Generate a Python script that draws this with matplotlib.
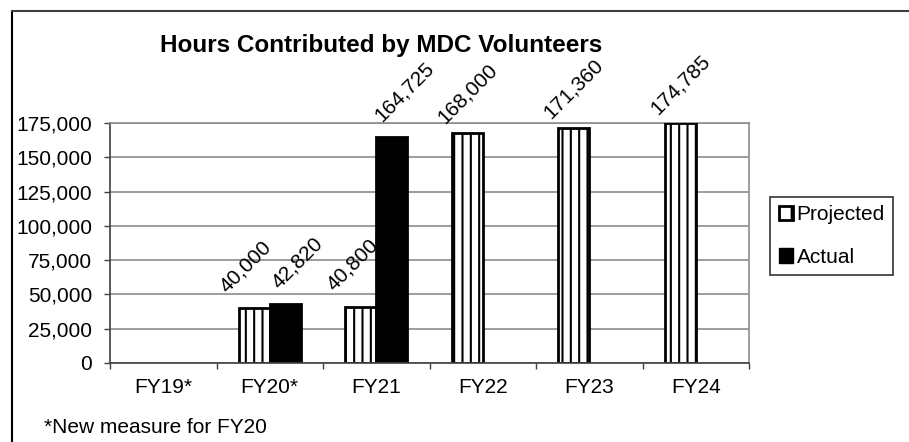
import numpy as np
import matplotlib
matplotlib.use("Agg")
import matplotlib.pyplot as plt
from matplotlib.lines import Line2D
from matplotlib.patches import Patch
from matplotlib.ticker import FuncFormatter, FixedLocator

plt.rcParams['font.family'] = ['Liberation Sans', 'DejaVu Sans']
plt.rcParams['hatch.linewidth'] = 1.5

categories = ['FY19*', 'FY20*', 'FY21', 'FY22', 'FY23', 'FY24']
projected = [None, 40000, 40800, 168000, 171360, 174785]
actual = [None, 42820, 164725, None, None, None]
yticks = [0, 25000, 50000, 75000, 100000, 125000, 150000, 175000]

W, H = 909, 442
fig = plt.figure(figsize=(W / 100, H / 100), dpi=100)
ax = fig.add_axes([110 / W, 1 - 363 / H, 639 / W, 240 / H])

x = np.arange(len(categories))
w = 0.29
fs = 15

def label(xpos, v, dx=0, dy=4):
    ax.annotate(f"{v:,}", (xpos, v), xytext=(dx, dy), textcoords='offset points',
                rotation=45, ha='center', va='bottom', fontsize=fs, zorder=4,
                annotation_clip=False)

for i, v in enumerate(projected):
    if v is None:
        continue
    ax.bar(x[i] - w / 2, v, w, color='white', edgecolor='black', hatch='||',
           linewidth=2, zorder=3)
    # Excel nudges the labels apart when both bars of a year are shown
    if actual[i] is not None:
        label(x[i] - w / 2, v, dx=-6, dy=9)
    else:
        label(x[i] - w / 2, v)

for i, v in enumerate(actual):
    if v is None:
        continue
    ax.bar(x[i] + w / 2, v, w, color='black', edgecolor='black',
           linewidth=2, zorder=3)
    label(x[i] + w / 2, v, dx=9, dy=9)

ax.set_xlim(-0.5, len(categories) - 0.5)
ax.set_ylim(0, 175000)
ax.set_yticks(yticks)
ax.yaxis.set_major_formatter(FuncFormatter(lambda v, p: f"{int(v):,}"))
ax.set_xticks(x)
ax.set_xticklabels(categories)
ax.xaxis.set_minor_locator(FixedLocator(np.arange(-0.5, len(categories), 1.0)))
ax.tick_params(axis='x', which='major', length=0, pad=11, labelsize=fs)
ax.tick_params(axis='x', which='minor', length=4, width=1, color='#404040')
ax.tick_params(axis='y', length=4, width=1, color='#404040', labelsize=fs, pad=9)
ax.grid(axis='y', color='#8c8c8c', linewidth=1.2, zorder=0)
ax.set_axisbelow(True)

for s in ['top', 'right']:
    ax.spines[s].set_color('#8c8c8c')
    ax.spines[s].set_linewidth(1.2)
for s in ['left', 'bottom']:
    ax.spines[s].set_color('#404040')
    ax.spines[s].set_linewidth(1.2)
ax.spines['bottom'].set_zorder(5)

fig.text(160 / W, 1 - 52 / H, 'Hours Contributed by MDC Volunteers',
         fontsize=17.5, fontweight='bold', ha='left', va='baseline')

handles = [Patch(facecolor='white', edgecolor='black', hatch='|', linewidth=2),
           Patch(facecolor='black', edgecolor='black')]
leg = fig.legend(handles, ['Projected', 'Actual'], loc='center left',
                 bbox_to_anchor=(770 / W, 1 - 236 / H), fontsize=fs,
                 frameon=True, fancybox=False, edgecolor='black',
                 handlelength=0.7, handleheight=0.7, handletextpad=0.15,
                 labelspacing=1.12, borderpad=0.42, borderaxespad=0)
leg.get_frame().set_linewidth(1.2)

fig.text(44 / W, 1 - 433 / H, '*New measure for FY20', fontsize=fs,
         ha='left', va='baseline')

fig.add_artist(Line2D([12 / W, 12 / W], [0, 1 - 11 / H], color='black',
                      linewidth=1.5, transform=fig.transFigure))
fig.add_artist(Line2D([12 / W, 1], [1 - 11 / H, 1 - 11 / H], color='#404040',
                      linewidth=1.5, transform=fig.transFigure))

fig.savefig('out.png', dpi=100)
